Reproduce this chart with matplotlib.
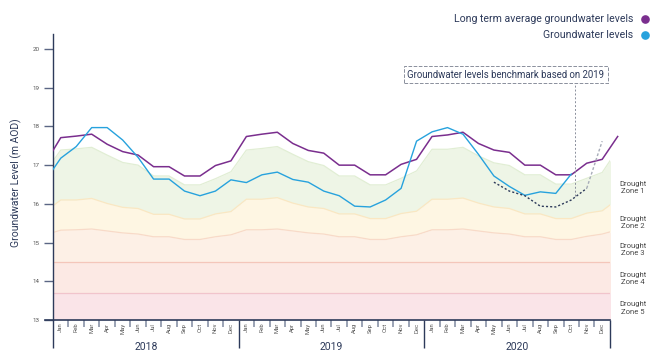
import numpy as np
import matplotlib
matplotlib.use("Agg")
import matplotlib.pyplot as plt
from matplotlib.patches import Rectangle
from matplotlib.lines import Line2D

plt.rcParams['font.family'] = ['Roboto', 'DejaVu Sans']

months = ["Jan", "Feb", "Mar", "Apr", "May", "Jun",
          "Jul", "Aug", "Sep", "Oct", "Nov", "Dec"]
years = ["2018", "2019", "2020"]

# monthly values, Dec 2017 .. Jan 2021 (38 points)
long_term_avg = [17.05,
                 17.71, 17.75, 17.80, 17.54, 17.35, 17.26, 16.96, 16.96, 16.72, 16.72, 16.99, 17.11,
                 17.74, 17.80, 17.85, 17.56, 17.38, 17.31, 17.00, 17.00, 16.75, 16.75, 17.02, 17.15,
                 17.74, 17.78, 17.85, 17.56, 17.39, 17.33, 17.00, 17.00, 16.75, 16.75, 17.05, 17.15,
                 17.74]
groundwater = [16.60,
               17.18, 17.48, 17.97, 17.97, 17.65, 17.20, 16.64, 16.64, 16.33, 16.21, 16.33, 16.62,
               16.55, 16.75, 16.82, 16.63, 16.56, 16.33, 16.21, 15.94, 15.92, 16.10, 16.40, 17.62,
               17.86, 17.97, 17.80, 17.28, 16.72, 16.45, 16.22, 16.31, 16.27, 16.77, np.nan, np.nan,
               np.nan]
zone1_top = [16.83,
             17.39, 17.42, 17.46, 17.26, 17.07, 17.00, 16.72, 16.72, 16.49, 16.49, 16.65, 16.83,
             17.39, 17.43, 17.48, 17.28, 17.09, 16.99, 16.72, 16.72, 16.49, 16.49, 16.66, 16.85,
             17.41, 17.41, 17.46, 17.24, 17.06, 16.99, 16.75, 16.75, 16.51, 16.51, 16.66, 16.81,
             17.41]
zone2_top = [15.80,
             16.10, 16.10, 16.14, 16.01, 15.91, 15.88, 15.73, 15.73, 15.61, 15.61, 15.74, 15.80,
             16.12, 16.12, 16.16, 16.02, 15.92, 15.88, 15.74, 15.74, 15.62, 15.62, 15.75, 15.81,
             16.12, 16.12, 16.15, 16.02, 15.92, 15.88, 15.74, 15.74, 15.62, 15.62, 15.76, 15.82,
             16.12]
zone3_top = [15.20,
             15.32, 15.33, 15.35, 15.30, 15.25, 15.22, 15.15, 15.15, 15.08, 15.08, 15.15, 15.20,
             15.33, 15.33, 15.35, 15.30, 15.25, 15.22, 15.15, 15.15, 15.08, 15.08, 15.15, 15.20,
             15.33, 15.33, 15.35, 15.30, 15.25, 15.22, 15.15, 15.15, 15.08, 15.08, 15.16, 15.22,
             15.33]
zone4_top = 14.5
zone5_top = 13.7
floor = 13.0

# 2020 benchmark, taken from the 2019 levels
bench_months = ["May", "Jun", "Jul", "Aug", "Sep", "Oct", "Nov", "Dec"]
bench_values = [16.56, 16.33, 16.21, 15.94, 15.92, 16.10, 16.40, 17.62]

zone_labels = ["Drought\nZone 1", "Drought\nZone 2", "Drought\nZone 3",
               "Drought\nZone 4", "Drought\nZone 5"]
zone_label_y = [16.42, 15.52, 14.82, 14.07, 13.31]

navy = "#2d3a5a"
purple = "#7a2e8e"
blue = "#27a2dd"

fig = plt.figure(figsize=(6.57, 3.64), dpi=100)
ax = fig.add_axes([0.0807, 0.1209, 0.8712, 0.787])
ax.set_xlim(0, 37)
ax.set_ylim(13, 20.4)

x = np.arange(-1, 37) + 0.5
clip = Rectangle((0, 13), 36, 7.4, transform=ax.transData)

bands = [
    (floor, zone5_top, "#fae4e8", "#f1c4cc"),
    (zone5_top, zone4_top, "#fce9e4", "#f4c6ba"),
    (zone4_top, zone3_top, "#fdf0e6", "#f8dac8"),
    (zone3_top, zone2_top, "#fef6e3", "#fae7c2"),
    (zone2_top, zone1_top, "#eef5e6", "#e1eed4"),
]
for lo, hi, fc, ec in bands:
    lo_arr = np.broadcast_to(lo, x.shape)
    hi_arr = np.broadcast_to(hi, x.shape)
    f = ax.fill_between(x, lo_arr, hi_arr, color=fc, lw=0, zorder=1)
    f.set_clip_path(clip)
    ln, = ax.plot(x, hi_arr, color=ec, lw=0.9, zorder=1.5)
    ln.set_clip_path(clip)

ax.plot(x, long_term_avg, color=purple, lw=1.1, zorder=3)
ax.plot(x, groundwater, color=blue, lw=1.0, zorder=3)

bx = [24 + months.index(m) + 0.5 for m in bench_months]
ax.plot(bx[:-1], bench_values[:-1], color=navy, lw=1.0, ls=(0, (1.5, 1.5)), zorder=4)
ax.plot(bx[-2:], bench_values[-2:], color="#a7acb8", lw=1.0, ls=(0, (2, 1.5)), zorder=4)

ax.vlines(33.75, 16.2, 19.3, colors="#8a8f9c", lw=0.7, linestyles=(0, (2, 2)), zorder=4)
ax.text(29.28, 19.34, "Groundwater levels benchmark based on 2019", ha='center', va='center',
        fontsize=6.9, color=navy, zorder=5,
        bbox=dict(boxstyle='square,pad=0.35', fc='white', ec='#8a8f9c', ls='--', lw=0.7))

# axes styling
for s in ["top", "right", "bottom"]:
    ax.spines[s].set_visible(False)
ax.spines["left"].set_color(navy)
ax.spines["left"].set_linewidth(1.0)
ax.set_yticks(range(13, 21))
ax.tick_params(axis='y', length=6.5, width=1, color="#5b6684", labelsize=4.5,
               labelcolor="#555555", pad=3)

ax.set_xticks([i for i in range(1, 36) if i % 12])
ax.set_xticklabels([])
ax.tick_params(axis='x', which='major', length=5, width=1.4, color="#9ba3b4")
ax.set_xticks(np.arange(36) + 0.5, minor=True)
ax.set_xticklabels(months * 3, minor=True, rotation=90, fontsize=4.2, color="#555555")
ax.tick_params(axis='x', which='minor', length=0, pad=2)

ax.plot([-0.5, 36], [13, 13], color=navy, lw=1.2, clip_on=False, zorder=6)
ax.vlines([0, 12, 24, 36], 12.28, 13, colors=navy, lw=1.0, clip_on=False, zorder=6)
for k, yr in enumerate(years):
    ax.text(6 + 12 * k, 12.30, yr, ha='center', va='center', fontsize=7.5, color=navy)

ax.set_ylabel("Groundwater Level (m AOD)", fontsize=7.5, color=navy)
ax.yaxis.set_label_coords(-0.055, 0.478)

for lab, yv in zip(zone_labels, zone_label_y):
    ax.text(37.5, yv, lab, ha='center', va='center', fontsize=5.5, color="#4a4a4a",
            linespacing=1.25)

# legend
fig.text(633 / 657, 1 - 19 / 364, "Long term average groundwater levels", ha='right',
         va='center', fontsize=7.6, color=navy)
fig.text(633 / 657, 1 - 35 / 364, "Groundwater levels", ha='right',
         va='center', fontsize=7.6, color=navy)
fig.add_artist(Line2D([645 / 657], [1 - 19 / 364], marker='o', ms=5.2, color=purple,
                      transform=fig.transFigure))
fig.add_artist(Line2D([645 / 657], [1 - 35 / 364], marker='o', ms=5.2, color=blue,
                      transform=fig.transFigure))

fig.savefig("out.png", dpi=100)
